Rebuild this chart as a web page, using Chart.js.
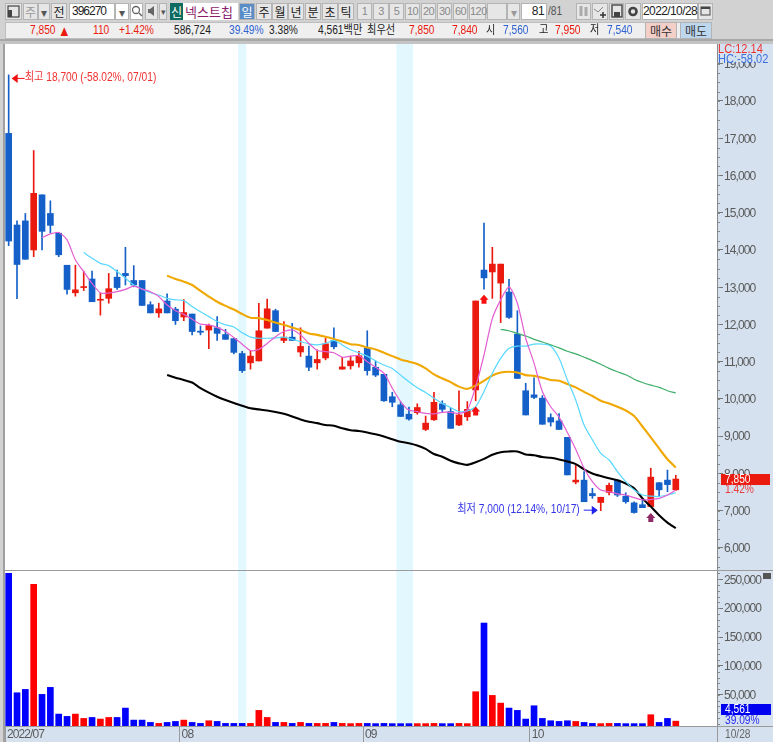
<!DOCTYPE html>
<html lang="ko">
<head>
<meta charset="utf-8">
<title>넥스트칩 396270</title>
<script src="https://cdn.jsdelivr.net/npm/chart.js@4"></script>
<style>
html, body { margin: 0; padding: 0; }
body { width: 773px; height: 742px; background: #d2d2d2; overflow: hidden; position: relative;
    font: 12px "Liberation Sans", "Noto Sans CJK KR", sans-serif; color: #222; }
canvas { position: absolute; left: 0; display: block; }
.box { position: absolute; box-sizing: border-box; text-align: center; white-space: nowrap; }
.btn { background: #e6e6e6; border: 1px solid #b4b4b4; height: 17px; top: 3px; line-height: 15px; font-family: "Noto Sans CJK KR"; }
.num { color: #8a8a8a; font-family: "Liberation Sans"; font-size: 11px; letter-spacing: -0.5px; }
.field { background: #fff; font-family: "Liberation Sans"; letter-spacing: -0.6px; }
.cell { top: 22px; height: 17px; line-height: 17px; text-align: left; transform: scaleX(0.85); transform-origin: left center; }
svg { position: absolute; left: 0; top: 0; }
</style>
</head>
<body>
<canvas id="priceChart" width="773" height="526" style="top:44px"></canvas>
<canvas id="volumeChart" width="773" height="172" style="top:570px"></canvas>
<script>
"use strict";

// 일봉 81개 (07/01 ~ 10/28)
const opens = [17130,14670,14780,14000,15480,14980,14450,13590,12850,12990,13220,12650,12700,13270,13370,13180,13180,12530,12310,12630,12410,12200,12280,11820,11850,11910,11730,11620,11220,10970,11020,11900,12370,11570,11660,11260,11150,10970,11100,11570,10800,10890,10970,11360,10850,10660,10060,9840,9590,9630,9180,9440,9870,9660,9300,9520,10240,13460,13410,13110,12870,11740,10220,10110,10020,9500,9410,8970,7770,7820,7460,7220,7490,7820,7390,7210,7160,7110,7750,7820,7560];
const closes = [14240,13610,13750,15520,14500,14660,13870,12940,12930,13010,12610,12670,12960,12990,13310,13060,12510,12310,12420,12310,12100,12320,11810,11790,11970,11760,11600,11250,10760,11150,11830,12420,11810,11660,11570,11410,10850,11060,11480,11400,10860,11020,11160,10760,10640,9950,9910,9530,9460,9770,9350,9910,9720,9210,9570,9720,12630,13250,13620,13620,12190,10550,9570,10040,9320,9380,9180,7960,7820,7240,7400,7360,7680,7420,7240,6950,7080,7900,7560,7700,7850];
const highs = [18700,14780,14980,16670,15480,15320,14470,13590,13590,13430,13430,12840,13370,13460,14070,13580,13180,12610,12570,12820,12460,12670,12280,11960,12010,12210,11870,11620,11280,11300,12570,12680,12410,12080,12030,11910,11420,11320,11630,11910,11120,11150,11280,11830,11020,10660,10180,9920,9780,9870,9540,10180,9950,9750,10220,9930,12630,14720,14070,13620,13210,12370,10420,10570,10090,9600,9610,8970,8230,8050,7600,7360,7740,7830,7480,7240,7290,8140,7760,8090,7950];
const lows = [14115,12690,13750,13820,14000,14460,13820,12810,12760,12910,12610,12250,12570,12940,13060,13010,12510,12310,12190,12310,12000,12100,11720,11720,11350,11570,11600,11210,10710,10800,11020,11900,11810,11510,11570,11140,10760,10800,11050,11340,10800,10800,10850,10640,10600,9930,9790,9530,9430,9590,9150,9420,9630,9210,9280,9420,9950,12950,12700,12050,12160,10550,9570,10010,9320,9270,9180,7960,7720,7240,7330,7000,7420,7380,7200,6930,7080,7110,7380,7510,7540];
const volumes = [260300,53700,59500,241300,50900,63000,16800,12800,16800,9300,11000,8200,11000,11000,27200,6400,6400,2400,700,2400,4100,6400,2400,700,5300,4100,700,700,700,700,23200,11000,2400,2400,700,2400,700,700,700,2400,700,300,700,700,300,700,300,300,300,300,300,700,300,300,700,300,55500,174300,49100,35800,27200,23200,8200,31200,9300,5300,4100,5300,4100,2400,700,300,700,700,300,300,300,15700,2400,9300,4561];

// 이동평균선 (시작 봉 번호 + 값)
const maPinkStart = 4;
const maPink = [14330,14430,14470,14270,13730,13420,13100,12850,12840,12880,12940,13030,12950,12880,12750,12520,12370,12270,12140,12010,11990,11920,11810,11650,11470,11300,11330,11490,11670,11810,11850,11720,11490,11300,11270,11240,11120,11150,11160,11000,10850,10690,10290,9930,9700,9660,9610,9600,9640,9640,9610,9700,10330,11180,12160,12660,13010,12570,11630,10960,10200,9790,9510,9100,8650,8140,7780,7555,7510,7450,7420,7350,7290,7300,7330,7420,7555];
const maCyanStart = 9;
const maCyan = [13930,13780,13640,13580,13420,13240,13060,12950,12850,12790,12700,12660,12640,12480,12340,12210,12080,11990,11930,11780,11660,11630,11630,11640,11660,11600,11540,11480,11450,11490,11570,11450,11320,11240,11150,11020,10910,10820,10640,10460,10300,10170,10020,9880,9770,9660,9680,9790,10200,10690,11090,11360,11420,11420,11470,11470,11420,11090,10510,9970,9300,8900,8540,8360,8050,7780,7560,7420,7390,7380,7420,7480];
const maOrangeStart = 19;
const maOrange = [13310,13220,13150,13060,12900,12750,12610,12500,12400,12280,12180,12170,12120,12050,11990,11920,11850,11760,11720,11670,11610,11540,11470,11450,11380,11330,11240,11150,11060,11000,10940,10820,10660,10550,10450,10330,10270,10360,10490,10630,10710,10730,10710,10640,10620,10570,10510,10490,10400,10310,10190,10080,9950,9880,9790,9690,9540,9260,8970,8670,8380,8160];
const maBlackStart = 19;
const maBlack = [10640,10570,10510,10440,10290,10170,10060,9970,9890,9820,9750,9720,9690,9650,9600,9530,9450,9390,9350,9300,9280,9210,9160,9140,9100,9050,8990,8920,8850,8810,8750,8660,8520,8450,8340,8270,8230,8300,8390,8500,8570,8590,8590,8510,8490,8440,8420,8375,8320,8250,8110,8000,7930,7870,7820,7730,7600,7330,7110,6880,6680,6530];
const maGreenStart = 59;
const maGreen = [11870,11830,11760,11690,11600,11530,11450,11370,11280,11210,11120,11030,10930,10820,10730,10650,10530,10440,10370,10310,10220,10160];

// 축 눈금
const priceTicks = [6000,7000,8000,9000,10000,11000,12000,13000,14000,15000,16000,17000,18000,19000];
const volumeTicks = [50000,100000,150000,200000,250000];
const monthLabels = ["2022/07","08","09","10"];
const monthStarts = [0,21,43,63];

// 휴장 구간, 신호 화살표 (봉 번호, 가격)
const bands = [[27.5,28.5],[46.5,48.5]];
const redArrows = [[56,9660],[57,12660]];
const purpleArrows = [[77,6800]];

const RED = "#ea1a0e", BLUE = "#1460c8";
const PANEL = "#d5e1ee";
const AXIS_FONT = "Liberation Sans";
const xRange = {type: "linear", min: -0.44, max: 84.94, offset: false};
const candleColors = closes.map((c, i) => (c >= opens[i] ? RED : BLUE));

function lineSet(values, start, color, width, order) {
    return {
        type: "line",
        data: values.map((v, i) => ({x: i + start, y: v})),
        borderColor: color,
        borderWidth: width,
        pointRadius: 0,
        tension: 0.25,
        order: order
    };
}

function drawMinorTicks(ctx, scale, step, from) {
    ctx.strokeStyle = "#888";
    ctx.beginPath();
    for (let v = from; v <= scale.max; v += step) {
        const y = Math.round(scale.getPixelForValue(v)) + 0.5;
        ctx.moveTo(scale.left, y);
        ctx.lineTo(scale.left + 3, y);
    }
    ctx.stroke();
}

function drawBands(chart) {
    const {ctx, chartArea, scales} = chart;
    ctx.save();
    ctx.fillStyle = "#e3f7fe";
    bands.forEach(b => {
        const x0 = scales.x.getPixelForValue(b[0]);
        const x1 = scales.x.getPixelForValue(b[1]);
        ctx.fillRect(x0, chartArea.top, x1 - x0, chartArea.bottom - chartArea.top);
    });
    ctx.restore();
}

function drawArrow(ctx, x, y, color) {
    ctx.fillStyle = color;
    ctx.beginPath();
    ctx.moveTo(x, y - 5);
    ctx.lineTo(x + 4.5, y);
    ctx.lineTo(x + 2.5, y);
    ctx.lineTo(x + 2.5, y + 4);
    ctx.lineTo(x - 2.5, y + 4);
    ctx.lineTo(x - 2.5, y);
    ctx.lineTo(x - 4.5, y);
    ctx.closePath();
    ctx.fill();
}

function drawPointer(ctx, x0, x1, y, color) {
    // x0 -> x1 방향 화살표
    const dir = x1 > x0 ? 1 : -1;
    ctx.strokeStyle = color;
    ctx.fillStyle = color;
    ctx.beginPath();
    ctx.moveTo(x0, y + 0.5);
    ctx.lineTo(x1, y + 0.5);
    ctx.stroke();
    ctx.beginPath();
    ctx.moveTo(x1 + dir * 1, y + 0.5);
    ctx.lineTo(x1 - dir * 5, y - 4);
    ctx.lineTo(x1 - dir * 5, y + 5);
    ctx.closePath();
    ctx.fill();
}

// 참조 화면의 글꼴이 좁아서 가로로 눌러 그림
function drawText(ctx, text, x, y, align, color) {
    ctx.save();
    ctx.translate(x, y);
    ctx.scale(0.85, 1);
    ctx.letterSpacing = "0px";
    ctx.textAlign = align;
    ctx.textBaseline = "middle";
    ctx.font = "12px 'Liberation Sans', 'Noto Sans CJK KR'";
    ctx.fillStyle = color;
    ctx.fillText(text, 0, 0);
    ctx.restore();
}

const panelPlugin = {
    id: "panel",
    beforeDraw(chart) {
        const {ctx, chartArea, width, height} = chart;
        ctx.save();
        ctx.fillStyle = "#fff";
        ctx.fillRect(chartArea.left, 0, chartArea.right - chartArea.left, chartArea.bottom);
        ctx.fillStyle = PANEL;
        ctx.fillRect(chartArea.right, 0, width - chartArea.right, height);
        ctx.fillRect(chartArea.left, chartArea.bottom, width - chartArea.left, height - chartArea.bottom);
        ctx.fillStyle = "#d2d2d2";
        ctx.fillRect(0, 0, chartArea.left, height);
        ctx.fillStyle = "#a0a0a0";
        ctx.fillRect(3, 0, 2, height);
        ctx.restore();
        ctx.letterSpacing = "-0.9px";
    },
    beforeDatasetsDraw: drawBands
};

const priceOverlay = {
    id: "priceOverlay",
    afterDraw(chart) {
        const {ctx, chartArea, scales} = chart;
        const x = scales.x, y = scales.y;
        ctx.save();
        drawMinorTicks(ctx, y, 250, 5500);

        redArrows.forEach(a => drawArrow(ctx, x.getPixelForValue(a[0]), y.getPixelForValue(a[1]), "#f50f0f"));
        purpleArrows.forEach(a => drawArrow(ctx, x.getPixelForValue(a[0]), y.getPixelForValue(a[1]), "#8e2a66"));

        // 최고/최저 표시
        const hiY = y.getPixelForValue(highs[0]) + 3;
        const hiX = x.getPixelForValue(0);
        drawPointer(ctx, hiX + 16, hiX + 4, hiY, "#f01010");
        drawText(ctx, "최고 18,700 (-58.02%, 07/01)", hiX + 16, hiY, "left", "#f03030");

        const loY = y.getPixelForValue(7000) - 1;
        const loX = x.getPixelForValue(71);
        drawPointer(ctx, loX - 17, loX - 4, loY, "#2020f0");
        drawText(ctx, "최저 7,000 (12.14%, 10/17)", loX - 21, loY, "right", "#3434e8");

        // 현재가
        const curY = y.getPixelForValue(closes[closes.length - 1]);
        ctx.fillStyle = "#ea1a0e";
        ctx.fillRect(chartArea.right + 4, curY - 5, 49, 11);
        drawText(ctx, "7,850", chartArea.right + 8, curY + 1, "left", "#fff");
        drawText(ctx, "1.42%", chartArea.right + 8, curY + 11, "left", "#e84040");
        ctx.restore();
    }
};

const volumeOverlay = {
    id: "volumeOverlay",
    afterDraw(chart) {
        const {ctx, chartArea, scales} = chart;
        ctx.save();
        drawMinorTicks(ctx, scales.y, 10000, 0);
        ctx.fillStyle = "#0000f0";
        ctx.fillRect(chartArea.right + 4, 134, 50, 11);
        drawText(ctx, "4,561", chartArea.right + 8, 140, "left", "#fff");
        drawText(ctx, "39.09%", chartArea.right + 8, 151, "left", "#2a2af0");
        drawText(ctx, "10/28", chartArea.right + 8, 165, "left", "#666");
        ctx.fillStyle = "#555";
        ctx.fillRect(763, 3, 8, 6);
        ctx.fillStyle = "#9a9a9a";
        ctx.fillRect(chartArea.left, 0, chart.width - chartArea.left, 1);
        ctx.fillRect(chartArea.left, chartArea.bottom, chart.width - chartArea.left, 1);
        ctx.fillRect(chartArea.right, chartArea.bottom, 1, chart.height - chartArea.bottom);
        ctx.restore();
    }
};

function noPadding(s) {
    s.paddingTop = 0;
    s.paddingBottom = 0;
    s.paddingLeft = 0;
    s.paddingRight = 0;
}

function yAxis(min, max, list) {
    return {
        position: "right",
        min: min,
        max: max,
        afterBuildTicks: s => { s.ticks = list.map(v => ({value: v})); },
        afterFit: s => { s.width = 56; noPadding(s); },
        border: {color: "#8a8a8a"},
        grid: {drawOnChartArea: false, tickLength: 6, tickColor: "#777"},
        ticks: {
            padding: 1,
            labelOffset: 1,
            color: "#5a5a5a",
            font: {family: AXIS_FONT, size: 12},
            callback: v => v.toLocaleString("en-US")
        }
    };
}

new Chart(document.getElementById("priceChart"), {
    type: "bar",
    data: {
        datasets: [
            lineSet(maPink, maPinkStart, "#e35ed2", 1.2, 1),
            lineSet(maCyan, maCyanStart, "#56d8ff", 1.2, 2),
            lineSet(maGreen, maGreenStart, "#3fae6a", 1.2, 3),
            lineSet(maOrange, maOrangeStart, "#f0a800", 2.1, 4),
            lineSet(maBlack, maBlackStart, "#000000", 2.1, 5),
            {
                data: opens.map((o, i) => ({x: i, y: [o, closes[i]]})),
                backgroundColor: candleColors,
                grouped: false, barPercentage: 1, categoryPercentage: 1,
                maxBarThickness: 6, minBarLength: 1, order: 6
            },
            {
                data: lows.map((l, i) => ({x: i, y: [l, highs[i]]})),
                backgroundColor: candleColors,
                grouped: false, barPercentage: 1, categoryPercentage: 1,
                maxBarThickness: 1, order: 7
            }
        ]
    },
    options: {
        responsive: false,
        animation: false,
        layout: {padding: {left: 5}},
        plugins: {legend: {display: false}, tooltip: {enabled: false}},
        scales: {
            x: Object.assign({display: false}, xRange),
            y: yAxis(5407, 19530, priceTicks)
        }
    },
    plugins: [panelPlugin, priceOverlay]
});

new Chart(document.getElementById("volumeChart"), {
    type: "bar",
    data: {
        datasets: [{
            data: volumes.map((v, i) => ({x: i, y: v})),
            backgroundColor: closes.map((c, i) => (c >= opens[i] ? "#ff0000" : "#0000ff")),
            grouped: false, barPercentage: 1, categoryPercentage: 1,
            maxBarThickness: 6, base: -3800
        }]
    },
    options: {
        responsive: false,
        animation: false,
        layout: {padding: {left: 5, top: 1}},
        plugins: {legend: {display: false}, tooltip: {enabled: false}},
        scales: {
            x: Object.assign({}, xRange, {
                afterBuildTicks: s => {
                    s.ticks = monthStarts.map((m, i) => ({value: i === 0 ? xRange.min : m - 0.5, label: monthLabels[i]}));
                },
                afterTickToLabelConversion: s => {
                    s.ticks.forEach((t, i) => { t.label = monthLabels[i]; });
                },
                afterFit: s => { s.height = 16; noPadding(s); },
                border: {color: "#9a9a9a"},
                grid: {drawOnChartArea: false, offset: false, tickLength: 16, tickColor: "#9a9a9a"},
                ticks: {
                    align: "start", padding: -15, labelOffset: 2, autoSkip: false, maxRotation: 0,
                    color: "#5a5a5a", font: {family: AXIS_FONT, size: 12}
                }
            }),
            y: yAxis(-3800, 264300, volumeTicks)
        }
    },
    plugins: [panelPlugin, volumeOverlay]
});

// 상단 도구 모음
function addBox(cls, text, x, w, css) {
    const el = document.createElement("div");
    el.className = "box " + cls;
    el.textContent = text;
    el.style.left = x + "px";
    if (w) el.style.width = w + "px";
    if (css) el.style.cssText += css;
    document.body.appendChild(el);
    return el;
}

const periodTabs = [["일",239,16],["주",256,16],["월",272,16],["년",288,16],["분",305,16],["초",322,16],["틱",338,16]];
const minuteTabs = [["1",357,15],["3",373,16],["5",389,15],["10",405,15],["20",421,15],["30",437,15],["60",453,15],["120",469,17]];
const quoteCells = [
    ["7,850",30,RED],["▲",58,RED],["110",93,RED],["+1.42%",119,RED],["586,724",174,"#222"],["39.49%",229,"#2f63d0"],
    ["3.38%",269,"#222"],["4,561백만",318,"#222"],["최우선",367,"#222"],["7,850",409,RED],["7,840",452,RED],["시",486,"#222"],
    ["7,560",503,"#2f63d0"],["고",539,"#222"],["7,950",555,RED],["저",590,"#222"],["7,540",607,"#2f63d0"]
];

addBox("", "", 0, 773, "top:39px;height:5px;background:#c4c4c4;border-top:2px solid #a8a8a8;");
addBox("", "", 5, 707, "top:22px;height:17px;background:#efefef;border:1px solid #bdbdbd;");
addBox("", "", 717, 56, "top:44px;height:18px;background:" + PANEL + ";border-left:1px solid #8a8a8a;");
addBox("cell", "LC:12.14", 718, 0, "top:43px;width:60px;color:#e33;font-size:13px;line-height:11px;height:11px;");
addBox("cell", "HC:-58.02", 718, 0, "top:53px;width:60px;color:#3a6fe0;font-size:13px;line-height:11px;height:11px;");

addBox("btn", "", 5, 17).innerHTML = '<svg width="15" height="15"><rect x="2" y="2" width="11" height="11" fill="none" stroke="#444" stroke-width="1.2"/><rect x="2" y="6" width="4" height="7" fill="#444"/></svg>';
addBox("btn", "주", 23, 15, "color:#999;");
addBox("btn", "▾", 38, 12, "color:#555;");
addBox("btn", "전", 51, 16);
addBox("btn field", "396270", 69, 46, "text-align:left;padding-left:2px;letter-spacing:-1px;");
addBox("btn", "▾", 115, 14, "background:#fff;color:#555;");
addBox("btn", "", 130, 13, "background:#fff;").innerHTML = '<svg width="12" height="14"><circle cx="5" cy="6" r="3.5" fill="none" stroke="#666" stroke-width="1.3"/><path d="M8 9l3 3" stroke="#666" stroke-width="1.5"/></svg>';
addBox("btn", "", 145, 13).innerHTML = '<svg width="12" height="14"><path d="M2 5h2l4-3v10l-4-3H2z" fill="#666"/></svg>';
addBox("btn", "▾", 159, 8, "color:#555;font-size:9px;");
addBox("btn", "신", 170, 13, "background:#0f6b60;color:#fff;border-color:#0f6b60;");
addBox("btn", "넥스트칩", 183, 55, "background:#fff;color:#8c1a6a;text-align:left;padding-left:1px;border-color:#fff;font-size:13px;");
periodTabs.forEach((t, i) => addBox("btn", t[0], t[1], t[2], i === 0 ? "background:#5a8cc8;color:#fff;" : ""));
minuteTabs.forEach(t => addBox("btn num", t[0], t[1], t[2]));
addBox("btn", "", 487, 20);
addBox("btn", "▾", 507, 13, "color:#999;");
addBox("btn field", "81", 521, 26, "text-align:right;padding-right:2px;");
addBox("cell", "/81", 548, 0, "top:3px;color:#555;width:20px;");
addBox("btn", "", 576, 15, "color:#999;").innerHTML = '<svg width="13" height="15"><path d="M4 2v10M9 3v9" stroke="#aaa" stroke-width="3"/></svg>';
addBox("btn", "", 592, 16).innerHTML = '<svg width="14" height="15"><path d="M1 5l4 3 5-5" fill="none" stroke="#888"/><path d="M10 8v6M7 11h6" stroke="#333" stroke-width="1.5"/></svg>';
addBox("btn", "", 609, 15).innerHTML = '<svg width="13" height="15"><rect x="2" y="1" width="10" height="12" fill="none" stroke="#444" stroke-width="1.4"/><rect x="4" y="8" width="6" height="5" fill="#444"/></svg>';
addBox("btn", "", 625, 16).innerHTML = '<svg width="14" height="15"><circle cx="7" cy="7.5" r="3.5" fill="none" stroke="#444" stroke-width="2.6"/></svg>';
addBox("btn field", "2022/10/28", 642, 56);
addBox("btn", "", 698, 15).innerHTML = '<svg width="13" height="15"><rect x="2" y="3" width="9" height="8" fill="none" stroke="#444"/><path d="M2 4h9" stroke="#444" stroke-width="2"/></svg>';

quoteCells.forEach(q => addBox("cell", q[0], q[1], 0, "color:" + q[2] + ";" + (q[0] === "▲" ? "font-size:15px;" : "")));
addBox("btn", "매수", 645, 32, "top:22px;background:#f4cfc8;color:#333;");
addBox("btn", "매도", 680, 32, "top:22px;background:#bdd7ee;color:#333;");
</script>
</body>
</html>
